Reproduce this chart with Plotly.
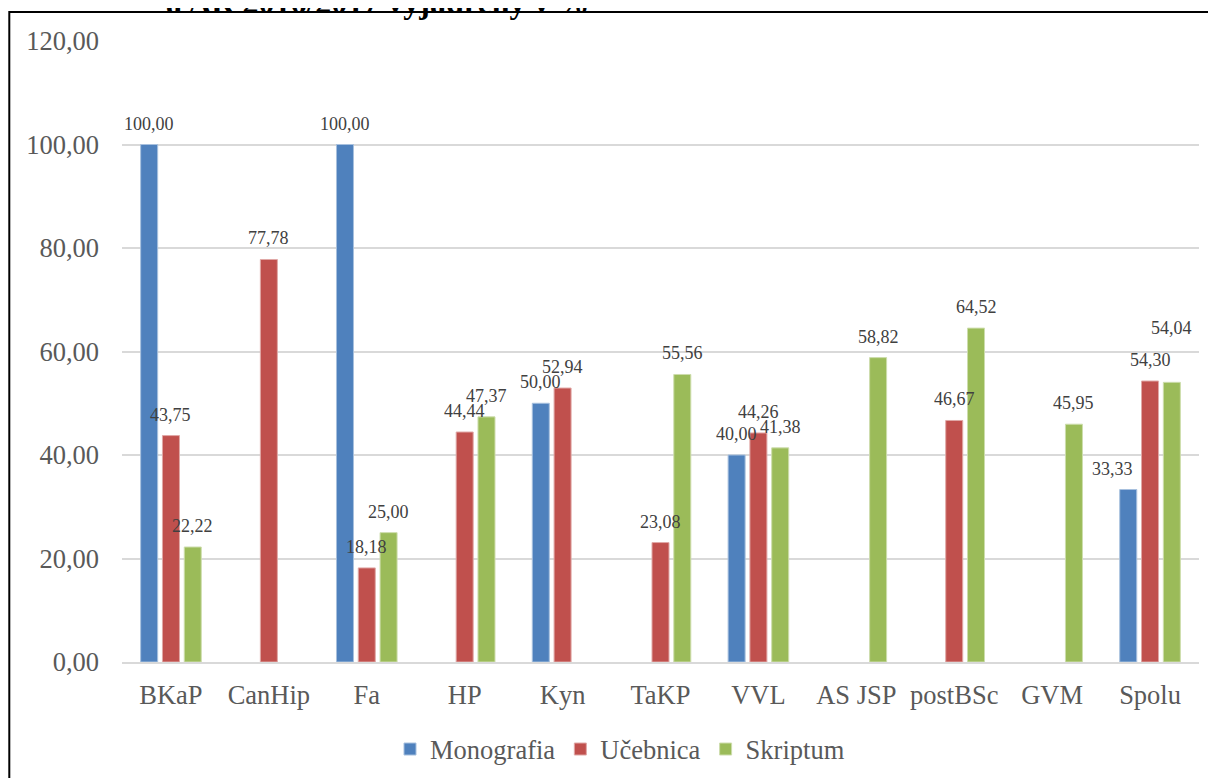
import plotly.graph_objects as go

categories = ["BKaP", "CanHip", "Fa", "HP", "Kyn", "TaKP", "VVL", "AS JSP", "postBSc", "GVM", "Spolu"]
monografia = [100.00, None, 100.00, None, 50.00, None, 40.00, None, None, None, 33.33]
ucebnica = [43.75, 77.78, 18.18, 44.44, 52.94, 23.08, 44.26, None, 46.67, None, 54.30]
skriptum = [22.22, None, 25.00, 47.37, None, 55.56, 41.38, 58.82, 64.52, 45.95, 54.04]
series_names = ["Monografia", "Učebnica", "Skriptum"]
y_ticks = [0, 20, 40, 60, 80, 100, 120]
title_text = "a AR 2016/2017 vyjadrený v %"

colors = ["#4F81BD", "#C0504D", "#9BBB59"]
edge_colors = ["#A7C0DE", "#E0A8A6", "#CDDDAC"]
FONT = "Liberation Serif, Times New Roman, serif"

W, H = 1216, 778
BODY = 8  # default page body margin offsets the figure in the page
# target plot area in page pixels
PL, PR, PT, PB = 122, 1199, 40.7, 661.7
ML = PL - BODY
MR = W - (PR - BODY)
MT = PT - BODY
MB = H - (PB - BODY)
plot_w = W - ML - MR
plot_h = H - MT - MB
BARGAP = 0.332
cat_w = plot_w / len(categories)
slot = cat_w * (1 - BARGAP) / 3


def px_x(page_x):
    return (page_x - BODY - ML) / plot_w


def px_y(page_y):
    return (H - MB - (page_y - BODY)) / plot_h


def fmt(v):
    return f"{v:.2f}".replace(".", ",")


fig = go.Figure()
all_series = [monografia, ucebnica, skriptum]
for name, vals, c, ec in zip(series_names, all_series, colors, edge_colors):
    fig.add_trace(go.Bar(
        x=categories, y=vals, name=name,
        marker=dict(color=c, line=dict(color=ec, width=1)),
        hoverinfo="x+y+name",
    ))

# label tweaks (pixel shifts) for a few manually positioned labels
extra_shift = {(0, 10): (-16, 0), (2, 10): (0, 33)}

annotations = []
for si, vals in enumerate(all_series):
    for ci, v in enumerate(vals):
        if v is None:
            continue
        dx, dy = extra_shift.get((si, ci), (0, 0))
        annotations.append(dict(
            x=categories[ci], y=v, xref="x", yref="y",
            text=fmt(v), showarrow=False,
            xshift=(si - 1) * slot + dx, yshift=21 + dy,
            yanchor="middle", xanchor="center",
            font=dict(family=FONT, size=18, color="#404040"),
        ))

# partially visible heading above the chart frame
annotations.append(dict(
    x=px_x(377), y=px_y(2), xref="paper", yref="paper",
    text=f"<b>{title_text}</b>", showarrow=False,
    xanchor="center", yanchor="middle",
    font=dict(family=FONT, size=32, color="#000000"),
))

fig.update_layout(
    width=W, height=H,
    margin=dict(l=ML, r=MR, t=MT, b=MB, pad=0),
    paper_bgcolor="white", plot_bgcolor="white",
    barmode="group", bargap=BARGAP, bargroupgap=0.22,
    showlegend=True,
    legend=dict(
        orientation="h", x=px_x(620), xanchor="center",
        y=px_y(749), yanchor="middle",
        font=dict(family=FONT, size=26.5, color="#595959"),
        bgcolor="rgba(0,0,0,0)",
    ),
    annotations=annotations,
    shapes=[dict(
        type="rect", xref="paper", yref="paper",
        x0=px_x(9.3), x1=px_x(1260),
        y0=px_y(830), y1=px_y(11.8),
        line=dict(color="black", width=2), fillcolor="rgba(0,0,0,0)",
        layer="above",
    )],
)

fig.update_xaxes(
    type="category", showgrid=False, showline=True, linecolor="#D9D9D9", linewidth=2,
    ticks="", ticklabelstandoff=8,
    tickfont=dict(family=FONT, size=26.5, color="#595959"),
)
fig.update_yaxes(
    range=[0, 120], tickvals=y_ticks, ticktext=[fmt(t) for t in y_ticks],
    showgrid=True, gridcolor="#D9D9D9", gridwidth=1.5, zeroline=False,
    showline=False, ticks="", ticklabelstandoff=22,
    tickfont=dict(family=FONT, size=26.5, color="#595959"),
)

fig.write_html("out.html")
